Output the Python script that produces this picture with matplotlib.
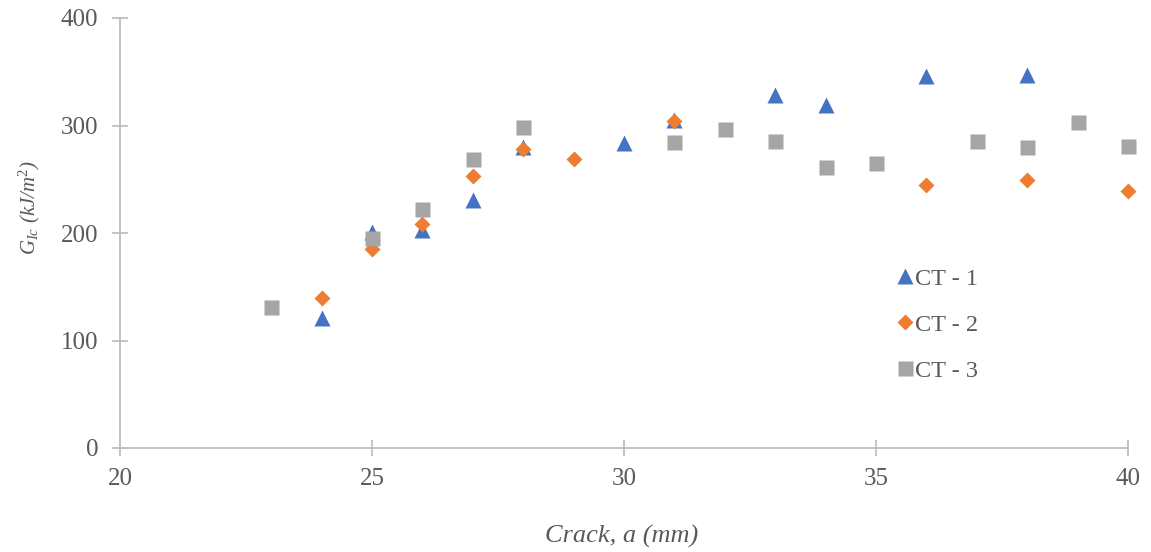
import matplotlib
matplotlib.use("Agg")
import matplotlib.pyplot as plt

# crack length (mm) and G_Ic (kJ/m^2) for each specimen
ct1_a = [24, 25, 26, 27, 28, 30, 31, 33, 34, 36, 38]
ct1_g = [121, 201, 203, 231, 280, 284, 305, 328, 319, 346, 347]

ct2_a = [24, 25, 26, 27, 28, 29, 31, 36, 38, 40]
ct2_g = [140, 185, 208, 253, 278, 269, 304, 245, 249, 239]

ct3_a = [23, 25, 26, 27, 28, 31, 32, 33, 34, 35, 37, 38, 39, 40]
ct3_g = [131, 195, 222, 269, 299, 285, 297, 286, 261, 265, 286, 280, 303, 281]

TXT = "#595959"
AX = "#BFBFBF"

plt.rcParams["font.family"] = ["Liberation Serif", "DejaVu Serif"]
plt.rcParams["mathtext.fontset"] = "custom"
plt.rcParams["mathtext.rm"] = "Liberation Serif"
plt.rcParams["mathtext.it"] = "Liberation Serif:italic"

fig = plt.figure(figsize=(11.51, 5.52), dpi=100)
ax = fig.add_axes([120 / 1151, 104 / 552, 1008 / 1151, 430 / 552])

ax.plot(ct1_a, ct1_g, ls="none", marker="^", ms=11.3, color="#4472C4", mec="none",
        label="CT - 1", clip_on=False)
ax.plot(ct2_a, ct2_g, ls="none", marker="D", ms=8, color="#ED7D31", mec="none",
        label="CT - 2", clip_on=False)
ax.plot(ct3_a, ct3_g, ls="none", marker="s", ms=10.8, color="#A5A5A5", mec="none",
        label="CT - 3", clip_on=False)

ax.set_xlim(20, 40)
ax.set_ylim(0, 400)
ax.set_xticks(range(20, 41, 5))
ax.set_yticks(range(0, 401, 100))

for s in ("top", "right"):
    ax.spines[s].set_visible(False)
for s in ("left", "bottom"):
    ax.spines[s].set_color(AX)
    ax.spines[s].set_linewidth(1.3)
ax.tick_params(direction="inout", length=11, width=1.3, color=AX,
               labelcolor=TXT, labelsize=18)
ax.tick_params(axis="x", pad=9)
ax.tick_params(axis="y", pad=10)

ax.set_xlabel("Crack, a (mm)", fontsize=19, color=TXT, style="italic")
ax.xaxis.set_label_coords(0.498, -0.178)
ax.set_ylabel(r"$G_{Ic}$ (kJ/m$^2$)", fontsize=15, color=TXT, style="italic")
ax.yaxis.set_label_coords(-0.077, 0.558)

ax.legend(loc="upper left", bbox_to_anchor=(888 / 1151, 1 - 258 / 552),
          bbox_transform=fig.transFigure, frameon=False, fontsize=17.5,
          labelcolor=TXT, handlelength=0.6, handletextpad=0.11, labelspacing=0.99,
          borderaxespad=0)

fig.savefig("out.png", dpi=100)
